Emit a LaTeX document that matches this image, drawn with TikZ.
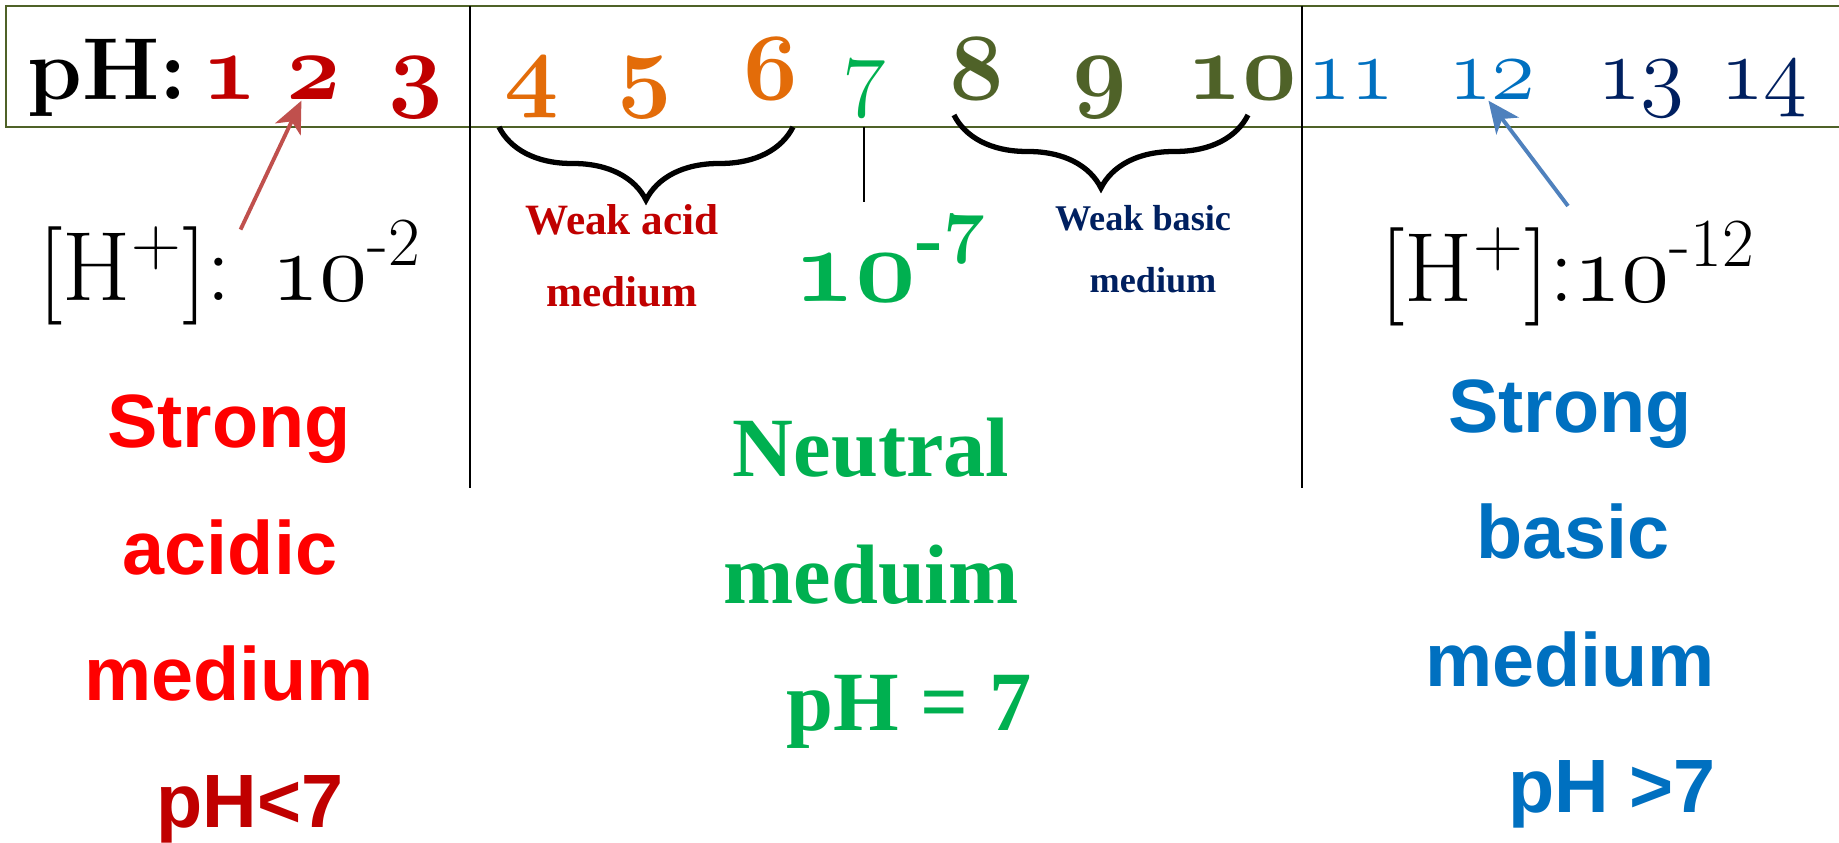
\documentclass[tikz,border=0pt]{standalone}
\usepackage{fix-cm}
\usepackage{fontspec}
\usetikzlibrary{arrows.meta,decorations.pathreplacing}

\newfontfamily\arialf{Liberation Sans}
\newfontfamily\timesf{Liberation Serif}
\newcommand\osb{\usefont{OML}{cmm}{b}{it}}
\newcommand\osr{\usefont{OML}{cmm}{m}{it}}

\definecolor{darkred}{HTML}{C00000}
\definecolor{orng}{HTML}{E36C09}
\definecolor{grn}{HTML}{00B050}
\definecolor{olive}{HTML}{4F6228}
\definecolor{blu}{HTML}{0070C0}
\definecolor{navy}{HTML}{002060}
\definecolor{arrred}{HTML}{C0504D}
\definecolor{arrblu}{HTML}{4F81BD}

\begin{document}
\begin{tikzpicture}[x=0.1mm,y=-0.1mm,
  every node/.style={inner sep=0pt,anchor=base},
  bnum/.style={font=\fontsize{27}{27}\osb},
  rnum/.style={font=\fontsize{25.5}{25.5}\osr},
  hconc/.style={font=\fontsize{28}{28}\selectfont},
  weak/.style={font=\fontsize{12.3}{12.3}\timesf\bfseries},
  big/.style={font=\fontsize{21.5}{21.5}\arialf\bfseries},
  mid/.style={font=\fontsize{24}{24}\timesf\bfseries},
  brc/.style={decorate,decoration={brace,mirror,amplitude=7.3mm},line width=1.5pt},
  pointer/.style={line width=1.1pt,-{Stealth[length=9pt,width=8pt,inset=2.5pt]}}]
  \useasboundingbox[fill=white] (0,0) rectangle (1839,843);
  % scale row
  \draw[olive,line width=0.6pt] (1839,6) -| (6,127) -- (1839,127);
  \draw[line width=0.7pt] (470,6) -- (470,488);
  \draw[line width=0.7pt] (1302,6) -- (1302,488);
  \draw[line width=0.7pt] (864,127) -- (864,202);
  \node[font=\fontsize{25}{25}\bfseries] (pH) at (107,100) {pH:};
  \node[bnum,darkred] (n1) at (230,100) {1};
  \node[bnum,darkred] (n2) at (314,100) {2};
  \node[bnum,darkred] (n3) at (416,100) {3};
  \node[bnum,orng] (n4) at (532,100) {4};
  \node[bnum,orng] (n5) at (645,100) {5};
  \node[bnum,orng] (n6) at (771,100) {6};
  \node[rnum,grn] (n7) at (864,100) {7};
  \node[bnum,olive] (n8) at (977,100) {8};
  \node[bnum,olive] (n9) at (1100,100) {9};
  \node[bnum,olive] (n10) at (1242,100) {10};
  \node[rnum,blu] (n11) at (1351,100) {11};
  \node[rnum,blu] (n12) at (1492,100) {12};
  \node[rnum,navy] (n13) at (1641,100) {13};
  \node[rnum,navy] (n14) at (1764,100) {14};
  % braces
  \draw[brc] (499,127) -- (793,127);
  \draw[brc] (954,115) -- (1248,115);
  % concentrations
  \node[hconc] (Ha) at (230,301) {[H\textsuperscript{+}]: {\osr 10}\textsuperscript{-2}};
  \node[hconc] (Hb) at (1568,302) {[H\textsuperscript{+}]:{\osr 10}\textsuperscript{-12}};
  \node[font=\fontsize{30}{30}\bfseries,grn] (Kw) at (891,302) {{\osb 10}\textsuperscript{-7}};
  \draw[pointer,arrred] ([xshift=3pt,yshift=-3pt]Ha.north) -- (n2.240);
  \draw[pointer,arrblu] ([yshift=4pt]Hb.north) -- (n12.260);
  % weak media
  \node[weak,darkred] (WA1) at (622,235) {Weak acid};
  \node[weak,darkred] (WA2) at (622,307) {medium};
  \node[weak,navy,font=\fontsize{10.3}{10.3}\timesf\bfseries] (WB1) at (1143,231) {Weak basic};
  \node[weak,navy,font=\fontsize{10.3}{10.3}\timesf\bfseries] (WB2) at (1153,293) {medium};
  % columns
  \node[big,red] (SA1) at (229,448) {Strong};
  \node[big,red] (SA2) at (230,575) {acidic};
  \node[big,red] (SA3) at (229,701) {medium};
  \node[big,darkred] (SA4) at (250,828) {pH<7};
  \node[mid,grn] (N1) at (871,477) {Neutral};
  \node[mid,grn] (N2) at (871,604) {meduim};
  \node[mid,grn] (N3) at (909,731) {pH = 7};
  \node[big,blu] (SB1) at (1570,433) {Strong};
  \node[big,blu] (SB2) at (1573,559) {basic};
  \node[big,blu] (SB3) at (1570,687) {medium};
  \node[big,blu] (SB4) at (1612,813) {pH >7};
\end{tikzpicture}
\end{document}
